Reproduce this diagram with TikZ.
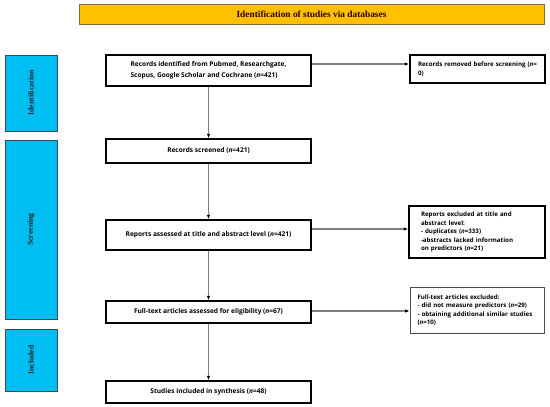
\documentclass[tikz,border=0pt]{standalone}
\usepackage{fontspec}
\setmainfont{Liberation Serif}
\newfontfamily\boxfont{Open Sans}
\usetikzlibrary{arrows.meta}
\definecolor{titlefill}{HTML}{FFC000}
\definecolor{titleedge}{HTML}{7F6A3A}
\definecolor{phasefill}{HTML}{00BEF2}
\definecolor{phaseedge}{HTML}{3A4A5A}
\definecolor{arrgrey}{HTML}{808080}
\tikzset{
  mainbox/.style={draw=black, line width=1.5pt, minimum width=205bp, inner sep=0pt,
    font=\boxfont\bfseries\fontsize{6.6}{11.5}\selectfont, align=center},
  sidebox/.style={draw=black, line width=1.5pt, inner sep=0pt,
    font=\boxfont\bfseries\fontsize{6.2}{8.6}\selectfont},
  phasebox/.style={draw=phaseedge, fill=phasefill, line width=0.9pt, minimum width=52bp, inner sep=0pt},
  phaselabel/.style={rotate=90, font=\bfseries\fontsize{7.8}{9}\selectfont, text=black!85},
  arr/.style={draw=arrgrey, line width=1.3pt, -{Latex[length=4.5bp,width=3.5bp,color=black]}},
}
\begin{document}
\begin{tikzpicture}[x=1bp,y=-1bp]
\useasboundingbox (0,0) rectangle (550,406);
% title
\node[draw=titleedge, fill=titlefill, line width=1pt, minimum width=465bp, minimum height=20bp,
  inner sep=0pt, font=\bfseries\fontsize{9.4}{11}\selectfont, text=black!85!red] (title) at (311.5,14) {Identification of studies via databases};
% phases
\node[phasebox, minimum height=76bp] (pid) at (31,93) {};
\node[phaselabel] (lid) at (pid.center) {Identification};
\node[phasebox, minimum height=179bp] (psc) at (31,229.5) {};
\node[phaselabel] (lsc) at (psc.center) {Screening};
\node[phasebox, minimum height=62bp] (pin) at (31,360) {};
\node[phaselabel] (lin) at (pin.center) {Included};
% main boxes
\node[mainbox, minimum height=31bp, align=left] (b1) at (208.5,70.5)
  {Records identified from Pubmed, Researchgate,\\Scopus, Google Scholar and Cochrane (\textit{n}=421)};
\node[mainbox, minimum height=24bp] (b2) at (208.5,151) {Records screened (\textit{n}=421)};
\node[mainbox, minimum height=30bp] (b3) at (208.5,235) {Reports assessed at title and abstract level (\textit{n}=421)};
\node[mainbox, minimum height=22bp] (b4) at (208.5,312) {Full-text articles assessed for eligibility (\textit{n}=67)};
\node[mainbox, minimum height=22bp] (b5) at (208.5,392) {Studies included in synthesis (\textit{n}=48)};
% side boxes
\node[sidebox, minimum width=135bp, minimum height=28bp, text width=119bp, align=left] (s1) at (477.5,69)
  {\mbox{Records removed before screening (\textit{n}=}\\0)};
\node[sidebox, minimum width=136bp, minimum height=52bp, text width=112bp, align=left] (s2) at (477,232)
  {Reports excluded at title and\\abstract level:\\- duplicates (\textit{n}=333)\\-abstracts lacked information\\on predictors (\textit{n}=21)};
\node[sidebox, draw=black!70, line width=0.7pt, minimum width=134bp, minimum height=46bp, text width=119bp, align=left] (s3) at (477,310)
  {Full-text articles excluded:\\- did not measure predictors (\textit{n}=29)\\- obtaining additional similar studies\\(\textit{n}=10)};
% arrows
\draw[arr] (b1.south) -- (b2.north);
\draw[arr] (b2.south) -- (b3.north);
\draw[arr] (b3.south) -- (b4.north);
\draw[arr] (b4.south) -- (b5.north);
\draw[arr] (b1.east |- 0,64) -- (s1.west |- 0,64);
\draw[arr] (b3.east |- 0,229) -- (s2.west |- 0,229);
\draw[arr] (b4.east |- 0,311) -- (s3.west |- 0,311);
\end{tikzpicture}
\end{document}
